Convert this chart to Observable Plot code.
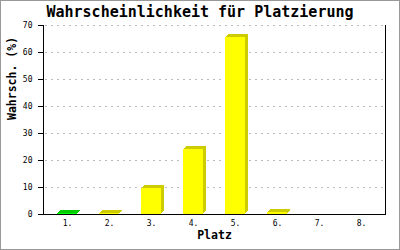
<!DOCTYPE html>
<html>
<head>
<meta charset="utf-8">
<script src="https://cdn.jsdelivr.net/npm/d3@7"></script>
<script src="https://cdn.jsdelivr.net/npm/@observablehq/plot@0.6"></script>
<style>
  html, body { margin: 0; padding: 0; background: #fff; }
  #wrap { position: relative; width: 400px; height: 250px; overflow: hidden; }
  #border { position: absolute; left: 0; top: 0; width: 398px; height: 248px; border: 1px solid #999; pointer-events: none; }
  #title { position: absolute; left: 0; top: 3px; width: 400px; text-align: center;
           font-family: "DejaVu Sans Mono", monospace; font-weight: bold; font-size: 15px; line-height: 18px; color: #000; }
  svg { display: block; }
</style>
</head>
<body>
<div id="wrap">
  <div id="title">Wahrscheinlichkeit für Platzierung</div>
  <div id="chart"></div>
  <div id="border"></div>
</div>
<script>
const places = ["1.", "2.", "3.", "4.", "5.", "6.", "7.", "8."];
const probabilities = [0.2, 0.4, 9.6, 24.1, 65.7, 0.8, 0, 0];
const highlighted = "1.";
const yTicks = [0, 10, 20, 30, 40, 50, 60, 70];
const xLabel = "Platz";
const yLabel = "Wahrsch. (%)";

const data = places.map((p, i) => ({place: p, value: probabilities[i]}));
const front = d => d.place === highlighted ? "#00ff00" : "#ffff00";
const side = d => d.place === highlighted ? "#00cc00" : "#cccc00";

const shadowMarks = [3, 2, 1].map(k =>
  Plot.barY(data, {x: "place", y: "value", fill: side, dx: k, dy: -k, shapeRendering: "crispEdges"})
);

const chart = Plot.plot({
  width: 400,
  height: 250,
  marginLeft: 43,
  marginRight: 15,
  marginTop: 25,
  marginBottom: 36,
  style: {fontFamily: "DejaVu Sans Mono, monospace", fontSize: "8px", background: "transparent", color: "#000"},
  x: {domain: places, paddingInner: 0.532, paddingOuter: 0.266, label: null},
  y: {domain: [0, 70], label: null},
  marks: [
    Plot.ruleY(yTicks.filter(t => t > 0), {stroke: "#bbb", strokeDasharray: "2,4", strokeOpacity: 1, insetLeft: 2, insetRight: 2}),
    ...shadowMarks,
    Plot.barY(data, {x: "place", y: "value", fill: front, shapeRendering: "crispEdges"}),
    Plot.ruleY([0], {stroke: "#000", strokeWidth: 1}),
    Plot.frame({anchor: "left", stroke: "#000"}),
    Plot.frame({anchor: "right", stroke: "#000"}),
    Plot.axisY({ticks: yTicks, tickSize: 5, tickPadding: 6, label: null, stroke: "#000", strokeOpacity: 1, fill: "#000"}),
    Plot.axisX({tickSize: 0, tickPadding: 6, label: null, fill: "#000"}),
    Plot.text([xLabel], {frameAnchor: "bottom", dy: 24, fontWeight: "bold", fontSize: 11.5, fill: "#000"}),
    Plot.text([yLabel], {frameAnchor: "left", dx: -31, rotate: -90, fontWeight: "bold", fontSize: 11.5, fill: "#000"})
  ]
});
document.getElementById("chart").appendChild(chart);
</script>
</body>
</html>
